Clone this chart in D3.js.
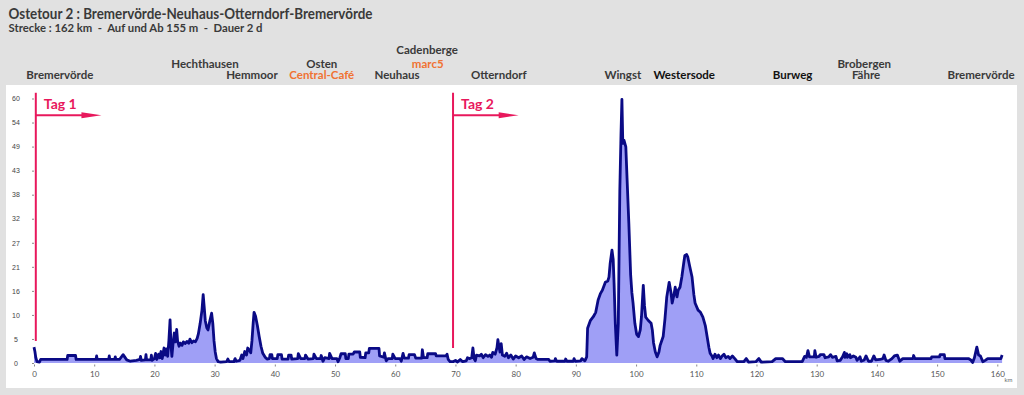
<!DOCTYPE html>
<html><head><meta charset="utf-8">
<script src="https://cdn.jsdelivr.net/npm/d3@7"></script>
<style>
html,body{margin:0;padding:0;background:#e1e1e1;}
svg{display:block;font-family:Lato,"Open Sans",sans-serif;}
</style></head>
<body><svg id="chart" width="1024" height="395"></svg>
<script>
const titleText = "Ostetour 2 : Bremervörde-Neuhaus-Otterndorf-Bremervörde";
const subtitleText = "Strecke : 162 km\u00a0\u00a0-\u00a0\u00a0Auf und Ab 155 m\u00a0\u00a0-\u00a0\u00a0Dauer 2 d";
const xTickValues = [0,10,20,30,40,50,60,70,80,90,100,110,120,130,140,150,160];
const yTickLabels = ["0","5","10","16","21","27","32","38","43","49","54","60"];
const places = [
  {name:"Bremervörde", km:4.3, row:0, kind:"place"},
  {name:"Hechthausen", km:28.4, row:1, kind:"place"},
  {name:"Hemmoor", km:36.2, row:0, kind:"place"},
  {name:"Osten", km:47.8, row:1, kind:"place"},
  {name:"Central-Café", km:47.8, row:0, kind:"cafe"},
  {name:"Cadenberge", km:65.3, row:2, kind:"place"},
  {name:"marc5", km:65.4, row:1, kind:"cafe"},
  {name:"Neuhaus", km:60.3, row:0, kind:"place"},
  {name:"Otterndorf", km:77.2, row:0, kind:"place"},
  {name:"Wingst", km:97.8, row:0, kind:"place"},
  {name:"Westersode", km:108.0, row:0, kind:"strong"},
  {name:"Burweg", km:126.0, row:0, kind:"strong"},
  {name:"Brobergen", km:137.9, row:1, kind:"place"},
  {name:"Fähre", km:138.2, row:0, kind:"place"},
  {name:"Bremervörde", km:157.3, row:0, kind:"place"}
];
const dayMarks = [
  {label:"Tag 1", km:0.3, bottom:5.0, arrowKm:10.9},
  {label:"Tag 2", km:69.6, bottom:3.4, arrowKm:10.9}
];
// [km, elevation m]
const profile = [
[0,3.6],[0.15,2.6],[0.3,1.2],[0.5,0.3],[0.9,0.2],[1.1,0.8],[5.5,0.8],[5.6,1.7],[6.9,1.7],[7.0,0.8],[10.3,0.8],[10.4,1.6],[10.5,0.8],[12.4,0.8],[12.5,1.6],[12.6,0.8],[13.4,0.8],[13.5,1.4],[13.6,0.8],[14.2,0.8],[14.8,1.9],[15.4,0.7],[16.0,0.4],[17.0,0.6],[17.6,0.8],[17.7,1.5],[17.8,0.6],[18.5,0.7],[18.6,1.9],[18.7,0.7],[19.4,0.7],[19.5,1.8],[19.6,0.6],[20.0,1.0],[20.2,2.2],[20.4,0.8],[20.7,2.0],[20.9,1.2],[21.1,2.6],[21.3,1.0],[21.6,3.4],[21.8,1.8],[22.0,3.2],[22.2,1.5],[22.4,5.0],[22.6,9.8],[22.75,4.0],[22.9,1.5],[23.1,4.5],[23.3,6.8],[23.5,4.8],[23.7,7.6],[23.85,5.0],[24.1,3.8],[24.3,4.5],[24.6,4.0],[24.8,4.8],[25.1,4.4],[25.4,4.9],[25.7,4.5],[25.9,5.4],[26.2,4.6],[26.5,5.0],[26.8,4.8],[27.1,5.6],[27.3,6.6],[27.6,9.0],[27.9,12.0],[28.1,15.5],[28.25,13.0],[28.45,9.6],[28.7,8.0],[28.9,7.5],[29.2,9.5],[29.5,11.3],[29.7,9.0],[29.9,5.0],[30.1,2.5],[30.3,1.0],[30.6,0.3],[31.0,0.2],[32.0,0.3],[32.2,0.9],[32.4,0.3],[33.2,0.3],[33.4,1.0],[33.6,0.4],[34.2,0.6],[34.5,1.8],[34.7,1.0],[35.0,2.6],[35.3,1.8],[35.5,3.4],[35.8,2.8],[36.0,2.3],[36.2,5.0],[36.4,9.0],[36.55,11.5],[36.8,10.6],[37.1,8.5],[37.4,6.0],[37.7,3.8],[38.0,2.2],[38.4,1.3],[38.7,0.9],
[39.1,1.0],[39.2,1.9],[39.5,1.9],[39.6,1.0],[40.4,1.0],[40.5,1.9],[41.1,1.9],[41.2,0.9],[42.2,0.9],[42.3,1.8],[42.7,1.8],[42.8,0.9],[43.8,1.0],[43.9,2.1],[44.3,1.0],[45.0,1.0],[45.1,1.8],[45.5,0.9],[46.4,1.0],[46.5,2.0],[46.9,1.0],[47.6,1.0],[47.7,1.7],[48.0,0.4],[48.3,1.2],[49.0,1.0],[49.1,2.2],[49.5,1.0],[50.3,1.0],[50.5,0.3],[50.8,1.2],[51.0,2.1],[51.7,2.1],[51.8,1.0],[52.2,1.0],[52.3,2.0],[53.0,2.0],[53.2,2.5],[54.1,2.5],[54.2,1.3],[55.0,1.2],[55.1,2.3],[55.6,2.3],[55.7,3.3],[57.3,3.3],[57.4,1.6],[58.1,1.3],[58.2,2.3],[58.5,0.5],[58.8,1.0],[59.5,1.0],[59.6,2.0],[60.0,1.0],[60.8,1.0],[61.0,0.4],[61.3,2.2],[61.5,1.1],[62.2,1.1],[62.3,1.9],[63.2,1.9],[63.4,1.1],[64.4,1.1],[64.5,3.0],[64.7,1.2],[65.3,1.2],[65.4,2.1],[66.7,2.1],[66.8,1.6],[68.4,1.6],[68.6,2.0],[68.8,0.8],[69.1,0.3],[69.6,0.3],[70.0,0.6],[70.3,0.2],[70.8,0.8],[71.2,0.3],[71.8,0.5],[72.0,1.2],[72.4,1.0],[72.7,1.2],[72.9,3.4],[73.1,1.0],[73.3,0.5],[73.5,1.8],[74.0,1.6],[74.3,2.0],[74.6,1.2],[75.0,1.9],[75.4,1.5],[75.7,1.8],[76.0,1.3],[76.2,2.4],[76.6,2.0],[76.9,3.5],[77.05,5.3],[77.2,4.0],[77.4,2.5],[77.6,4.4],[77.8,1.8],[78.2,1.5],[78.5,2.2],[78.8,1.2],[79.2,1.8],[79.6,0.9],[80.0,1.6],[80.5,1.2],[81.0,1.6],[81.4,0.8],[81.8,1.4],[82.4,1.0],[82.9,1.3],[83.1,2.3],[83.4,1.0],[83.7,0.8],[85.5,0.8],[85.7,0.4],[86.5,0.5],[86.6,1.0],[86.8,0.4],[88.2,0.4],[88.3,0.9],[88.5,0.4],[89.6,0.4],[89.7,1.0],[89.9,0.4],[90.8,0.5],[91.0,1.0],[91.5,0.5],[91.8,1.4],
[91.95,7.9],[92.4,9.6],[92.9,10.5],[93.3,11.5],[93.7,14.3],[94.1,15.8],[94.4,16.5],[94.9,18.3],[95.3,18.6],[95.5,19.5],[95.7,22.6],[96.0,25.6],[96.2,23.5],[96.35,18.0],[96.55,9.0],[96.8,1.8],[97.05,9.0],[97.3,39.0],[97.5,52.0],[97.65,59.8],[97.8,49.8],[98.0,50.5],[98.3,49.0],[98.5,42.0],[98.8,31.7],[99.1,20.0],[99.3,16.0],[99.5,13.6],[99.8,9.0],[100.1,6.5],[100.4,6.0],[100.7,7.5],[100.9,10.5],[101.2,17.6],[101.4,13.0],[101.6,10.4],[102.0,9.7],[102.5,9.0],[102.7,7.5],[102.9,4.6],[103.2,2.5],[103.5,1.4],[103.8,2.5],[104.0,4.0],[104.5,6.0],[104.8,10.0],[105.1,15.0],[105.5,18.3],[105.8,16.0],[106.0,13.6],[106.3,15.5],[106.5,17.2],[106.8,15.0],[107.0,16.5],[107.3,17.2],[107.6,19.5],[107.9,22.5],[108.1,24.4],[108.4,24.6],[108.6,24.0],[108.9,22.0],[109.3,19.5],[109.6,15.5],[109.8,13.6],[110.3,12.0],[110.7,11.5],[111.1,10.4],[111.5,8.5],[111.8,6.0],[112.1,3.5],[112.3,2.2],[112.6,1.6],[112.8,1.0],[113.1,2.0],[113.4,1.2],[113.7,1.8],[114.0,1.0],[114.3,1.6],[114.6,2.0],[114.9,1.2],[115.3,1.5],[115.6,1.0],[116.0,1.6],[116.4,1.0],[116.8,0.3],[117.9,0.3],[118.3,1.0],[118.7,0.2],[119.9,0.3],[120.4,1.0],[120.8,0.2],[122.6,0.3],[123.2,1.0],[124.3,1.0],[124.8,0.3],[127.6,0.3],[128.0,1.5],[128.3,1.3],[128.55,2.8],[128.8,1.4],[129.6,1.4],[129.7,2.8],[129.9,1.3],[130.4,1.5],[130.6,1.9],[131.2,1.9],[131.4,1.2],[132.0,1.4],[132.3,1.9],[132.6,1.3],[133.2,1.5],[133.4,0.5],[133.9,0.6],[134.3,1.4],[134.6,2.4],[134.7,1.3],[135.0,2.1],[135.1,1.3],[135.5,1.9],[135.6,1.2],[136.1,1.6],[136.5,1.3],[136.7,0.6],[137.2,1.4],[137.4,0.4],[137.9,0.7],[138.2,1.6],[138.6,0.4],[139.1,0.4],[139.5,1.6],[139.8,0.7],[140.5,0.8],[141.0,1.0],[141.2,1.8],[141.5,0.6],[141.9,0.4],[142.5,1.0],[142.9,1.6],[143.4,1.8],[143.8,0.4],[144.3,1.0],[146.0,1.0],[146.1,1.7],[146.3,1.0],[149.0,1.0],[149.1,1.4],[150.4,1.4],[150.5,1.9],[151.2,1.9],[151.3,1.0],[155.2,1.0],[155.6,0.7],[155.9,0.1],[156.2,1.2],[156.6,3.6],[156.9,1.8],[157.2,1.6],[157.6,0.3],[158.0,0.6],[158.4,1.0],[160.6,1.0],[160.8,1.8]
];

const svg = d3.select("#chart");
const W = 1024, H = 395;
svg.append("rect").attr("width", W).attr("height", H).attr("fill", "#e1e1e1");
svg.append("rect").attr("x", 6).attr("y", 85).attr("width", 1011).attr("height", 303).attr("fill", "#ffffff");

svg.append("text").attr("x", 8.5).attr("y", 18.5).text(titleText)
  .attr("font-size", 15).attr("font-weight", 700).attr("fill", "#3a3a3a")
  .attr("textLength", 364).attr("lengthAdjust", "spacingAndGlyphs");
svg.append("text").attr("x", 8.5).attr("y", 31.5).text(subtitleText)
  .attr("font-size", 11.5).attr("font-weight", 700).attr("fill", "#3a3a3a")
  .attr("textLength", 254).attr("lengthAdjust", "spacingAndGlyphs");

const x = d3.scaleLinear().domain([0, 160]).range([34, 997.3]);
const y = d3.scaleLinear().domain([0, 60]).range([363, 98.5]);

// axes
const xAxis = d3.axisBottom(x).tickValues(xTickValues).tickSize(2).tickPadding(5).tickFormat(d3.format("d"));
const gx = svg.append("g").attr("transform", `translate(0,${y(0) + 1.5})`).call(xAxis);
gx.select(".domain").remove();
gx.selectAll(".tick line").attr("stroke", "#888");
gx.selectAll(".tick text").attr("font-size", 8).attr("fill", "#555").attr("font-family", "Lato,sans-serif");
svg.append("text").attr("x", x(161.2)).attr("y", 382).text("km").attr("font-size", 6).attr("fill", "#666");

const yTickPos = yTickLabels.map((d, i) => i * 60 / (yTickLabels.length - 1));
const yAxis = d3.axisLeft(y).tickValues(yTickPos).tickSize(2).tickPadding(12)
  .tickFormat((d, i) => yTickLabels[i]);
const gy = svg.append("g").attr("transform", `translate(34,0)`).call(yAxis);
gy.select(".domain").remove();
gy.selectAll(".tick line").attr("stroke", "#888");
gy.selectAll(".tick text").attr("font-size", 7).attr("fill", "#444").attr("text-anchor", "middle").attr("x", -18);

// profile
const area = d3.area().x(d => x(d[0])).y0(y(0)).y1(d => y(d[1]));
const line = d3.line().x(d => x(d[0])).y(d => y(d[1]));
svg.append("path").datum(profile).attr("d", area).attr("fill", "#9f9ff6");
svg.append("path").datum(profile).attr("d", line).attr("fill", "none")
  .attr("stroke", "#0a0a85").attr("stroke-width", 2.8).attr("stroke-linejoin", "round");

// day markers
const pink = "#e8185c";
const dayG = svg.selectAll("g.day").data(dayMarks).join("g").attr("class", "day");
dayG.append("line")
  .attr("x1", d => x(d.km)).attr("x2", d => x(d.km))
  .attr("y1", y(61.3)).attr("y2", d => y(d.bottom))
  .attr("stroke", pink).attr("stroke-width", 2);
dayG.append("line")
  .attr("x1", d => x(d.km)).attr("x2", d => x(d.km + d.arrowKm) - 14)
  .attr("y1", y(56.2)).attr("y2", y(56.2))
  .attr("stroke", pink).attr("stroke-width", 2);
dayG.append("path")
  .attr("d", d => {
    const x1 = x(d.km + d.arrowKm), yy = y(56.2);
    return `M${x1 - 20},${yy - 3} L${x1},${yy} L${x1 - 20},${yy + 3} Z`;
  })
  .attr("fill", pink);
dayG.append("text")
  .attr("x", d => x(d.km) + 8).attr("y", 108.5)
  .text(d => d.label).attr("font-size", 14).attr("font-weight", 700).attr("fill", pink);

// place labels
const rowY = [79, 67.5, 53.5];
const colorFor = {place: "#3a3a3a", cafe: "#f07232", strong: "#111111"};
svg.selectAll("text.place").data(places).join("text").attr("class", "place")
  .attr("x", d => x(d.km)).attr("y", d => rowY[d.row])
  .attr("text-anchor", "middle").attr("font-size", 11.5).attr("font-weight", 700)
  .attr("fill", d => colorFor[d.kind]).text(d => d.name);
</script></body></html>
